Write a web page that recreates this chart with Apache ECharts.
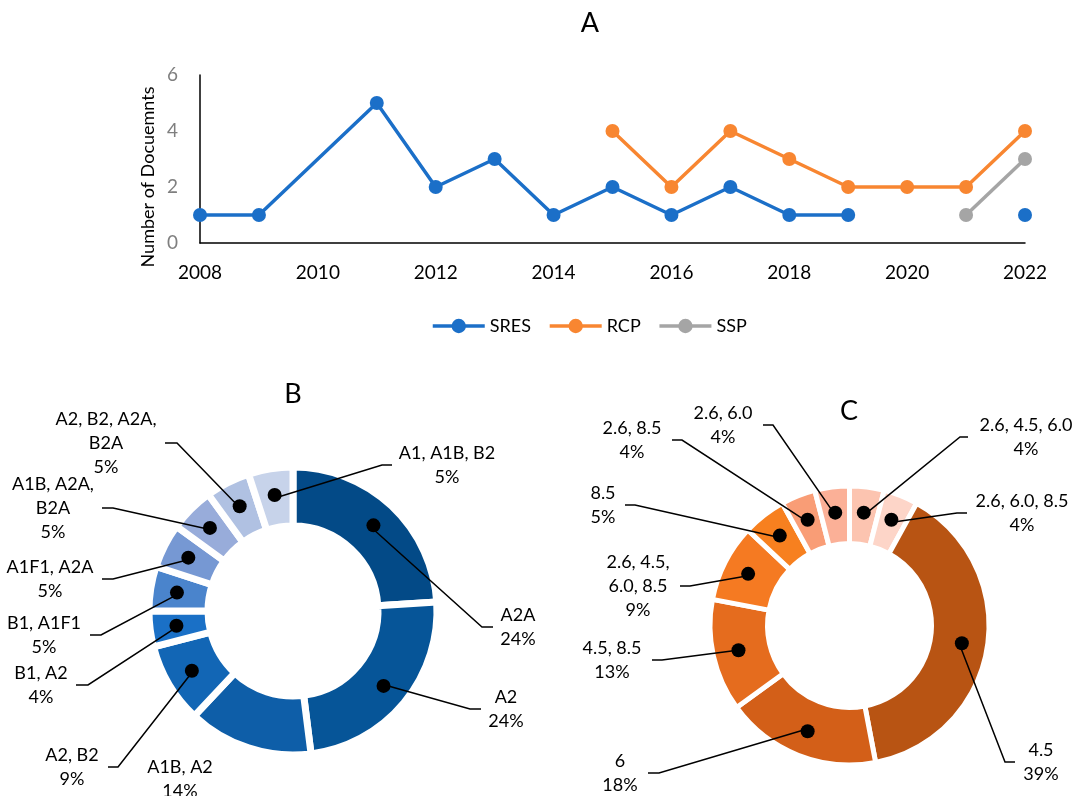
<!DOCTYPE html>
<html>
<head>
<meta charset="utf-8">
<title>Scenario documents</title>
<script src="https://cdn.jsdelivr.net/npm/echarts@6/dist/echarts.min.js"></script>
<style>
  html, body { margin: 0; padding: 0; background: #fff; }
  #chart { width: 1076px; height: 796px; }
</style>
</head>
<body>
<div id="chart"></div>
<script>
// ---- Panel A: documents per year for each scenario family ----
const sresYears = [2008, 2009, 2011, 2012, 2013, 2014, 2015, 2016, 2017, 2018, 2019, 2020, 2022];
const sresDocs  = [1, 1, 5, 2, 3, 1, 2, 1, 2, 1, 1, null, 1];   // null = break in the line
const rcpYears  = [2015, 2016, 2017, 2018, 2019, 2020, 2021, 2022];
const rcpDocs   = [4, 2, 4, 3, 2, 2, 2, 4];
const sspYears  = [2021, 2022];
const sspDocs   = [1, 3];

// ---- Panel B: SRES scenario combinations (%), clockwise from 12 o'clock ----
const sresCombos = ['A2A', 'A2', 'A1B, A2', 'A2, B2', 'B1, A2', 'B1, A1F1',
                    'A1F1, A2A', 'A1B, A2A, B2A', 'A2, B2, A2A, B2A', 'A1, A1B, B2'];
const sresShares = [24, 24, 14, 9, 4, 5, 5, 5, 5, 5];

// ---- Panel C: RCP combinations (%), clockwise from 12 o'clock ----
const rcpCombos = ['2.6, 4.5, 6.0', '2.6, 6.0, 8.5', '4.5', '6', '4.5, 8.5',
                   '2.6, 4.5, 6.0, 8.5', '8.5', '2.6, 8.5', '2.6, 6.0'];
const rcpShares = [4, 4, 39, 18, 13, 9, 5, 4, 4];

// ---- styling ----
const FONT = 'Lato, "Open Sans", sans-serif';
const blues = ['#034a87', '#065598', '#0e5ea8', '#1266b5', '#1a70c6', '#4a84cc',
               '#7698d3', '#98acda', '#b0c1e2', '#c7d3ea'];
const oranges = ['#fcc4b0', '#fdd5c8', '#b85413', '#d35f18', '#e56c1e', '#f57a22',
                 '#f7801f', '#f99d76', '#fbb097'];

// label placement: [text centre x, text centre y, elbow x, segment end x]; null elbow = no leader
const labelSpotsB = [
  [518, 627, 482, 493], [506, 709, 470, 481], [180, 779, null, null],
  [72, 767, 118, 108], [41, 685, 88, 76], [44, 635, 101, 90],
  [50, 579, 113, 102], [53, 508, 113, 102], [106, 443, 177, 165],
  [447, 465, 382, 392]
];
const labelSpotsC = [
  [1026, 437, 960, 968], [1022, 513, 957, 967], [1041, 762, 1005, 1015],
  [620, 773, 659, 648], [612, 660, 662, 652], [638, 586, 690, 680],
  [603, 505, 635, 625], [632, 440, 682, 672], [723, 425, 773, 763]
];

const donutB = { center: [293, 611], radius: [85, 144], border: 7, wrap: 12 };
const donutC = { center: [849.5, 625.5], radius: [82, 139.5], border: 5, wrap: 13 };

function pairs(xs, ys) {
  return xs.map((x, i) => [x, ys[i] == null ? '-' : ys[i]]);
}

// greedy word wrap by character count
function wrapText(s, maxChars) {
  const words = s.split(' ');
  const lines = [];
  let cur = '';
  words.forEach(w => {
    if (cur && (cur + ' ' + w).length > maxChars) { lines.push(cur); cur = w; }
    else cur = cur ? cur + ' ' + w : w;
  });
  if (cur) lines.push(cur);
  return lines.join('\n');
}

function donutSeries(names, values, colors, spots, geo) {
  const rMid = (geo.radius[0] + geo.radius[1]) / 2;
  const cx = geo.center[0], cy = geo.center[1];
  const base = {
    type: 'pie', center: geo.center, radius: geo.radius,
    startAngle: 90, clockwise: true, avoidLabelOverlap: false, silent: true
  };
  // coloured ring
  const ring = Object.assign({}, base, {
    z: 2,
    itemStyle: { borderColor: '#ffffff', borderWidth: geo.border },
    label: { show: false }, labelLine: { show: false },
    data: names.map((n, i) => ({ name: n, value: values[i], itemStyle: { color: colors[i] } }))
  });
  // category labels with leader lines, kept above the ring
  const labels = Object.assign({}, base, {
    z: 3,
    itemStyle: { color: 'rgba(0,0,0,0)', borderWidth: 0 },
    label: {
      show: true, position: 'outside', color: '#000', fontFamily: FONT,
      fontSize: 18, lineHeight: 24, align: 'center',
      formatter: p => wrapText(p.name, geo.wrap) + '\n' + p.value + '%'
    },
    labelLine: { show: true, length: 10, length2: 10, lineStyle: { color: '#000', width: 1.5 } },
    labelLayout: function (p) {
      const s = spots[p.dataIndex];
      const res = { x: s[0], y: s[1], align: 'center', verticalAlign: 'middle' };
      if (s[2] != null && p.labelLinePoints) {
        const p0 = p.labelLinePoints[0];
        const a = Math.atan2(p0[1] - cy, p0[0] - cx);
        res.labelLinePoints = [
          [cx + rMid * Math.cos(a), cy + rMid * Math.sin(a)],
          [s[2], s[1]],
          [s[3], s[1]]
        ];
      }
      return res;
    },
    data: names.map((n, i) => ({
      name: n, value: values[i],
      labelLine: { show: spots[i][2] != null }
    }))
  });
  // black anchor dots at the start of each leader line
  const dots = Object.assign({}, base, {
    z: 4,
    itemStyle: { color: 'rgba(0,0,0,0)', borderWidth: 0 },
    label: {
      show: true, position: 'inside', rotate: 0,
      formatter: '{d| }',
      rich: { d: { width: 14, height: 14, borderRadius: 7, backgroundColor: '#000' } }
    },
    labelLine: { show: false },
    data: names.map((n, i) => ({
      name: n, value: values[i],
      label: { show: spots[i][2] != null }
    }))
  });
  return [ring, labels, dots];
}

const chart = echarts.init(document.getElementById('chart'), null, { renderer: 'canvas' });

const titleStyle = { fontSize: 27, fontWeight: 'normal', color: '#000', fontFamily: FONT };

chart.setOption({
  animation: false,
  backgroundColor: '#ffffff',
  textStyle: { fontFamily: FONT },
  title: [
    { text: 'A', left: 590, top: 10, textAlign: 'center', padding: 0, textStyle: titleStyle },
    { text: 'B', left: 293, top: 381, textAlign: 'center', padding: 0, textStyle: titleStyle },
    { text: 'C', left: 849, top: 398, textAlign: 'center', padding: 0, textStyle: titleStyle }
  ],
  legend: {
    left: 426, top: 312,
    itemWidth: 52, itemHeight: 18, itemGap: 17,
    lineStyle: { width: 3.5 },
    textStyle: { fontSize: 18, color: '#000', fontFamily: FONT },
    data: ['SRES', 'RCP', 'SSP']
  },
  grid: { left: 200, top: 75, width: 825, height: 168 },
  xAxis: {
    type: 'value', min: 2008, max: 2022, interval: 2,
    axisLine: { show: true, lineStyle: { color: '#000', width: 1.5 } },
    axisTick: { show: false },
    splitLine: { show: false },
    axisLabel: { color: '#000', fontSize: 19, margin: 20, fontFamily: FONT, formatter: v => String(v) }
  },
  yAxis: {
    type: 'value', min: 0, max: 6, interval: 2,
    axisLine: { show: true, lineStyle: { color: '#000', width: 1.5 } },
    axisTick: { show: false },
    splitLine: { show: false },
    axisLabel: { color: '#7f7f7f', fontSize: 19, margin: 22, fontFamily: FONT }
  },
  graphic: [{
    type: 'text', x: 148, y: 177, rotation: Math.PI / 2,
    style: { text: 'Number of Docuemnts', fontSize: 18, fontFamily: FONT, fill: '#000',
             align: 'center', verticalAlign: 'middle' }
  }],
  series: [
    { name: 'SRES', type: 'line', data: pairs(sresYears, sresDocs), connectNulls: false,
      symbol: 'circle', symbolSize: 14, color: '#1b6fc8',
      lineStyle: { width: 3.5 } },
    { name: 'RCP', type: 'line', data: pairs(rcpYears, rcpDocs),
      symbol: 'circle', symbolSize: 14, color: '#f88631',
      lineStyle: { width: 3.5 } },
    { name: 'SSP', type: 'line', data: pairs(sspYears, sspDocs),
      symbol: 'circle', symbolSize: 14, color: '#a5a5a5',
      lineStyle: { width: 3.5 } },
    ...donutSeries(sresCombos, sresShares, blues, labelSpotsB, donutB),
    ...donutSeries(rcpCombos, rcpShares, oranges, labelSpotsC, donutC)
  ]
});
</script>
</body>
</html>
